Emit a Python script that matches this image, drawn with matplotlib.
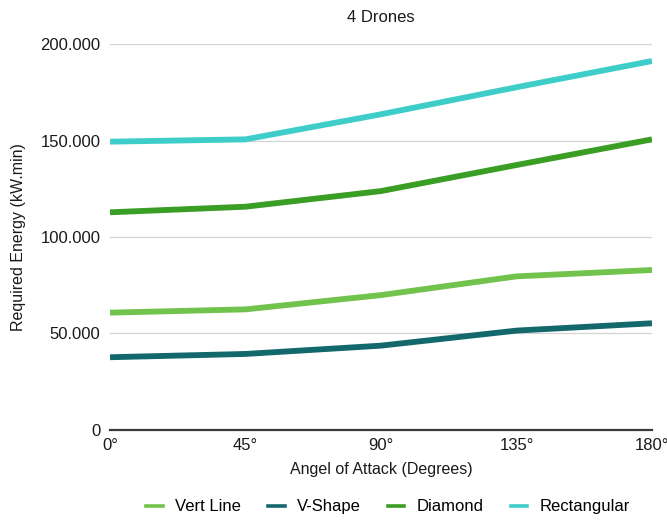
import matplotlib
matplotlib.use("Agg")
import matplotlib.pyplot as plt
from matplotlib.ticker import FuncFormatter
from matplotlib.lines import Line2D

plt.rcParams['font.family'] = ['Liberation Sans', 'DejaVu Sans']

angles = [0, 45, 90, 135, 180]
angle_labels = ["0°", "45°", "90°", "135°", "180°"]
vert_line = [60800, 62500, 69900, 79600, 82900]
v_shape = [37700, 39400, 43700, 51500, 55300]
diamond = [112800, 115700, 123800, 137300, 150600]
rectangular = [149400, 150600, 163600, 177600, 191200]

series = [
    ("Vert Line", vert_line, "#72c34d"),
    ("V-Shape", v_shape, "#13686b"),
    ("Diamond", diamond, "#3a9e24"),
    ("Rectangular", rectangular, "#3ecdc8"),
]

fig = plt.figure(figsize=(6.67, 5.21), dpi=100)
ax = fig.add_axes([0.165, 0.1747, 0.8125, 0.7408])

for name, vals, color in series:
    ax.plot(angles, vals, color=color, lw=4.2, label=name, solid_capstyle='butt',
            solid_joinstyle='round', zorder=3)

ax.set_xlim(0, 180)
ax.set_ylim(0, 200000)
ax.set_xticks(angles)
ax.set_xticklabels(angle_labels)
ax.set_yticks([0, 50000, 100000, 150000, 200000])
ax.yaxis.set_major_formatter(FuncFormatter(
    lambda v, p: "0" if v == 0 else f"{int(v):,}".replace(",", ".")))

ax.grid(axis='y', color='#d4d4d4', lw=0.9)
ax.set_axisbelow(True)
for s in ['top', 'right', 'left']:
    ax.spines[s].set_visible(False)
ax.spines['bottom'].set_color('#3a3a3a')
ax.spines['bottom'].set_linewidth(1.6)
ax.spines['bottom'].set_zorder(4)
ax.tick_params(axis='both', length=0, labelsize=12, colors='#1a1a1a')
ax.tick_params(axis='x', pad=6)
ax.tick_params(axis='y', pad=7)

ax.set_title("4 Drones", fontsize=12, color='#1a1a1a', pad=16)
ax.set_xlabel("Angel of Attack (Degrees)", fontsize=11.5, color='#1a1a1a', labelpad=6)
ax.set_ylabel("Required Energy (kW.min)", fontsize=11.5, color='#1a1a1a', labelpad=10)

handles = [Line2D([], [], color=c, lw=2.6) for _, _, c in series]
fig.legend(handles, [n for n, _, _ in series], loc='lower center',
           bbox_to_anchor=(0.582, -0.016), ncol=4, frameon=False,
           fontsize=12, handlelength=1.0, handletextpad=0.75, columnspacing=1.6)

fig.savefig("out.png", dpi=100)
